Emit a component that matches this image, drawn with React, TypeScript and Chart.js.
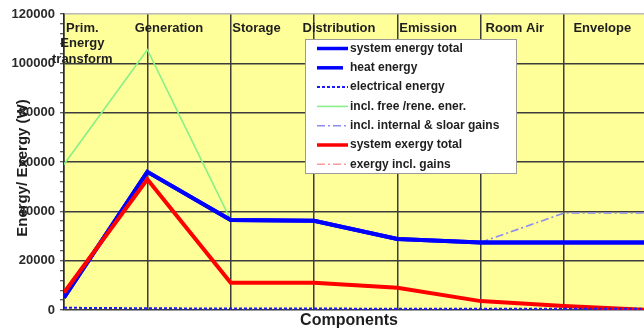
import { useEffect, useRef } from 'react';
import { Chart, registerables } from 'chart.js';

Chart.register(...registerables);

// Component chain along the x axis (the last point lies just past the right edge)
const categories = ['Prim.\nEnergy\ntransform', 'Generation', 'Storage', 'Distribution', 'Emission', 'Room Air', 'Envelope', ''];

// Energy / exergy flows in W
const systemEnergyTotal = [5000, 56000, 36500, 36200, 28800, 27400, 27400, 27400];
const heatEnergy = [5000, 56000, 36500, 36200, 28800, 27400, 27400, 27400];
const electricalEnergy = [900, 700, 600, 600, 500, 500, 500, 500];
const inclFreeRenewable = [59000, 105500, 36500, 36200, 28800, 27400, 27400, 27400];
const inclInternalSolarGains = [null, null, null, null, null, 27400, 39300, 39300];
const systemExergyTotal = [7000, 53000, 11000, 11000, 9000, 3600, 1600, 0];
const exergyInclGains = [7000, 53000, 11000, 11000, 9000, 3600, 1600, 0];

const seriesNames = [
  'system energy total',
  'heat energy',
  'electrical energy',
  'incl. free /rene. ener.',
  'incl. internal & sloar gains',
  'system exergy total',
  'exergy incl. gains',
];

const yMax = 120000;
const yMajorStep = 20000;
const yMinorStep = 4000;

const FONT = 'Arial, "Liberation Sans", sans-serif';
const TEXT = '#1e1e1e';
const GRID = '#3c3c3c';

const toPoints = (vals: (number | null)[]) => vals.map((v, i) => ({ x: i, y: v }));

// Label centres, as a fraction of a category step past each gridline
const labelShift = [0.22, 0.26, 0.31, 0.3, 0.37, 0.41, 0.46];

const decorPlugin = {
  id: 'decor',
  beforeDraw(chart: any) {
    const { ctx, chartArea: a } = chart;
    ctx.save();
    ctx.fillStyle = '#ffffff';
    ctx.fillRect(0, 0, chart.width, chart.height);
    ctx.fillStyle = '#ffff99';
    ctx.fillRect(a.left, a.top, a.right - a.left, a.bottom - a.top);
    ctx.restore();
  },
  afterDatasetsDraw(chart: any) {
    const { ctx, chartArea: a } = chart;
    const xs = chart.scales.x;
    ctx.save();

    // component names inside the top of the plot
    ctx.fillStyle = TEXT;
    ctx.font = `bold 13px ${FONT}`;
    ctx.textAlign = 'center';
    ctx.textBaseline = 'middle';
    categories.forEach((name, i) => {
      if (!name) return;
      const cx = xs.getPixelForValue(i + labelShift[i]);
      name.split('\n').forEach((line, j) => {
        ctx.fillText(line, cx, a.top + 14 + j * 15.5);
      });
    });

    // axis titles
    ctx.font = `bold 16px ${FONT}`;
    ctx.textBaseline = 'alphabetic';
    ctx.fillText('Components', a.left + 285, a.bottom + 15);

    ctx.save();
    ctx.translate(a.left - 41, (a.top + a.bottom) / 2 + 6);
    ctx.rotate(-Math.PI / 2);
    ctx.font = `bold 15px ${FONT}`;
    ctx.textBaseline = 'middle';
    ctx.fillText('Energy/ Exergy (W)', 0, 0);
    ctx.restore();

    // legend box
    const lx = a.left + 241;
    const ly = a.top + 25;
    const lw = 211;
    const lh = 134;
    ctx.fillStyle = '#ffffff';
    ctx.fillRect(lx, ly, lw, lh);
    ctx.strokeStyle = '#9a9a9a';
    ctx.lineWidth = 1;
    ctx.strokeRect(lx + 0.5, ly + 0.5, lw, lh);

    ctx.font = `bold 12px ${FONT}`;
    ctx.textAlign = 'left';
    ctx.textBaseline = 'middle';
    chart.data.datasets.forEach((ds: any, k: number) => {
      const y = ly + 9.5 + k * 19.3;
      ctx.save();
      ctx.strokeStyle = ds.borderColor;
      ctx.lineWidth = Math.min(ds.borderWidth, 3.5);
      ctx.setLineDash(ds.borderDash || []);
      ctx.beginPath();
      ctx.moveTo(lx + 12, y);
      ctx.lineTo(lx + (k === 1 ? 38 : 43), y);
      ctx.stroke();
      ctx.restore();
      ctx.fillStyle = TEXT;
      ctx.fillText(ds.label, lx + 45, y);
    });

    ctx.restore();
  },
};

export default function App() {
  const canvasRef = useRef<HTMLCanvasElement | null>(null);

  useEffect(() => {
    const canvas = canvasRef.current;
    if (!canvas) return;

    const chart = new Chart(canvas, {
      type: 'line',
      data: {
        datasets: [
          {
            label: seriesNames[0],
            data: toPoints(systemEnergyTotal),
            borderColor: '#0000ff',
            borderWidth: 4,
            order: 1,
          },
          {
            label: seriesNames[1],
            data: toPoints(heatEnergy),
            borderColor: '#0000ff',
            borderWidth: 4,
            order: 2,
          },
          {
            label: seriesNames[2],
            data: toPoints(electricalEnergy),
            borderColor: '#1a1aff',
            borderWidth: 2,
            borderDash: [3, 2],
            order: 0,
          },
          {
            label: seriesNames[3],
            data: toPoints(inclFreeRenewable),
            borderColor: '#88f088',
            borderWidth: 1.6,
            order: 3,
          },
          {
            label: seriesNames[4],
            data: toPoints(inclInternalSolarGains),
            borderColor: '#8c8cf0',
            borderWidth: 1.6,
            borderDash: [8, 3, 2, 3],
            order: 3,
          },
          {
            label: seriesNames[5],
            data: toPoints(systemExergyTotal),
            borderColor: '#ff0000',
            borderWidth: 4,
            order: 0,
          },
          {
            label: seriesNames[6],
            data: toPoints(exergyInclGains),
            borderColor: '#ff9a9a',
            borderWidth: 1.6,
            borderDash: [8, 3, 2, 3],
            order: 4,
          },
        ],
      },
      options: {
        animation: false,
        responsive: false,
        events: [],
        layout: { padding: { top: 14, left: 0, right: 0, bottom: 0 } },
        elements: {
          point: { radius: 0 },
          line: { tension: 0, fill: false },
        },
        plugins: {
          legend: { display: false },
          tooltip: { enabled: false },
        },
        scales: {
          x: {
            type: 'linear',
            min: 0,
            max: 6.96,
            afterBuildTicks: (scale: any) => {
              scale.ticks = categories.map((_, i) => ({ value: i })).filter((t) => t.value <= 6.96);
            },
            afterFit: (scale: any) => {
              scale.height = 18;
            },
            ticks: { display: false },
            grid: { color: GRID, lineWidth: 1.5, drawTicks: false },
            border: { display: false },
          },
          y: {
            min: 0,
            max: yMax,
            afterBuildTicks: (scale: any) => {
              const ticks = [];
              for (let v = 0; v <= yMax; v += yMinorStep) ticks.push({ value: v });
              scale.ticks = ticks;
            },
            afterFit: (scale: any) => {
              scale.width = 64;
            },
            ticks: {
              autoSkip: false,
              padding: 5,
              color: '#2a2a2a',
              font: { family: FONT, size: 13, weight: 'bold' },
              callback: (v: any) => (Number(v) % yMajorStep === 0 ? String(v) : ''),
            },
            grid: {
              lineWidth: 1.5,
              tickLength: 4,
              color: (c: any) => {
                const v = c.tick ? c.tick.value : 0;
                if (v === yMax) return '#b8b8b8';
                return v % yMajorStep === 0 ? GRID : 'rgba(0,0,0,0)';
              },
              tickColor: '#2a2a2a',
              tickWidth: 1,
            },
            border: { display: true, color: '#2a2a2a', width: 1.5 },
          },
        },
      },
      plugins: [decorPlugin],
    } as any);

    return () => chart.destroy();
  }, []);

  return (
    <div style={{ position: 'fixed', left: 0, top: 0, width: 644, height: 328, background: '#ffffff' }}>
      <canvas ref={canvasRef} width={644} height={328} style={{ display: 'block' }} />
    </div>
  );
}
